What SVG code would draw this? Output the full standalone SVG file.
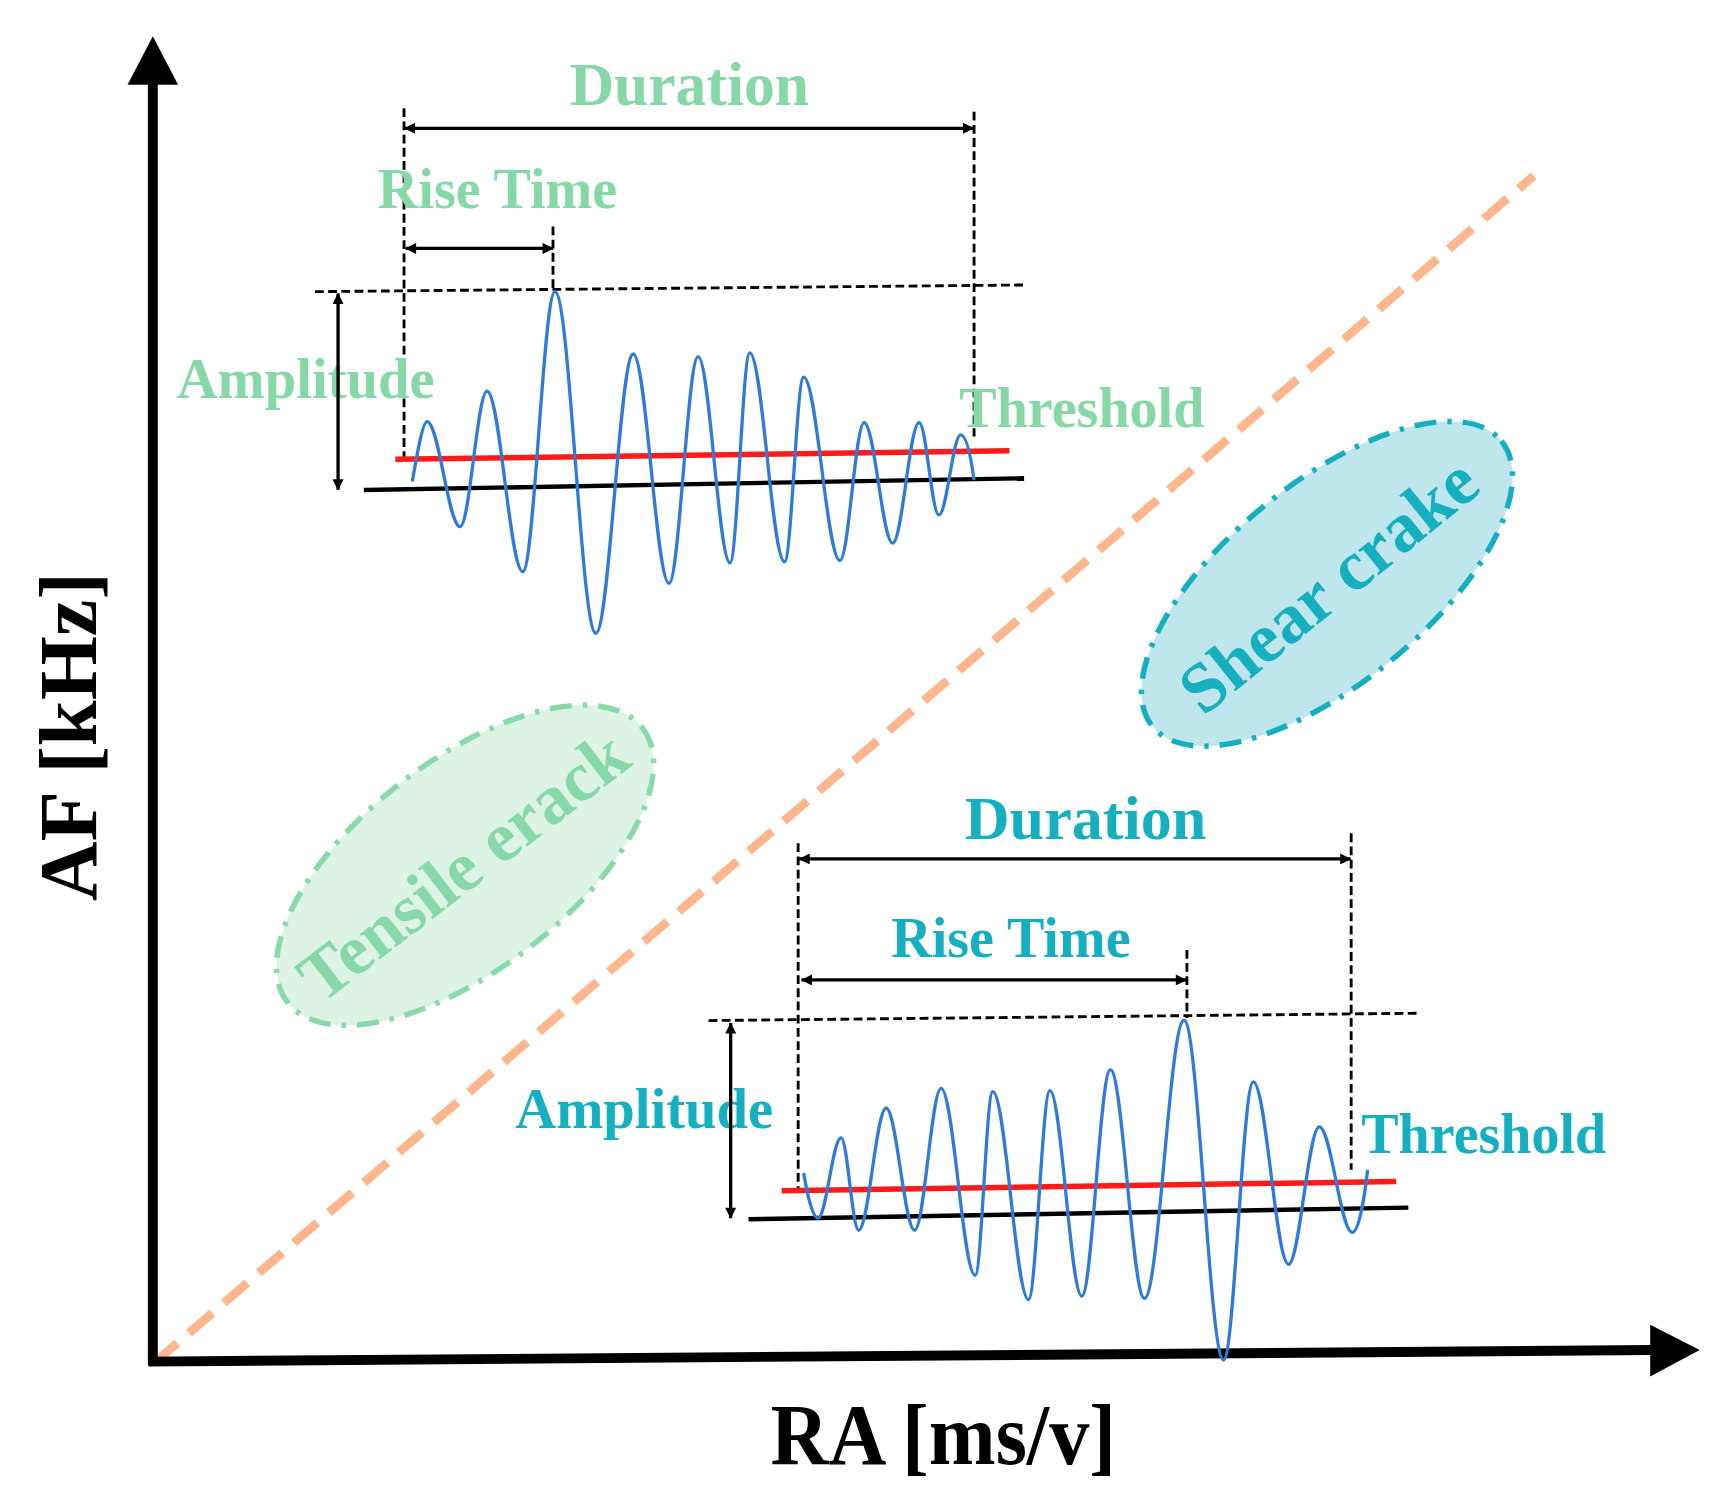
<svg xmlns="http://www.w3.org/2000/svg" width="1724" height="1507" viewBox="0 0 1724 1507">
<style>
  text { font-family: "Liberation Serif", "Times New Roman", serif; font-weight: bold; }
  .g { fill: #86D9A6; }
  .t { fill: #16AFC0; }
  .k { fill: #000; }
  .dash { stroke: #000; stroke-width: 2.6; stroke-dasharray: 8 4; fill: none; }
  .dim { stroke: #000; stroke-width: 3; fill: none; marker-start: url(#ah); marker-end: url(#ah); }
  .wave { stroke: #2E7BD8; stroke-width: 3; fill: none; stroke-linejoin: round; }
  .red { stroke: #FF1A1A; stroke-width: 5; }
  .base { stroke: #000; stroke-width: 4; }
  .axis { stroke: #000; stroke-width: 9; }
</style>
<defs>
  <marker id="ah" viewBox="0 0 10 10" refX="9.5" refY="5" markerUnits="userSpaceOnUse" markerWidth="13" markerHeight="10" orient="auto-start-reverse">
    <path d="M0,0 L10,5 L0,10 Z" fill="#000"/>
  </marker>
</defs>
<rect width="1724" height="1507" fill="#fff"/>
<g transform="scale(1.0994)">
  <g id="diagonal">
    <line x1="140" y1="1240" x2="1395" y2="160" stroke="#FDB68E" stroke-width="8" stroke-dasharray="28 14"/>
  </g>

  <g id="tensile-region">
    <ellipse cx="423" cy="787" rx="204" ry="95" transform="rotate(-37.7 423 787)" fill="#DDF3E5" stroke="#88DBA8" stroke-width="5" stroke-dasharray="20 10 4 10"/>
    <text class="g" font-size="64" text-anchor="middle" transform="translate(421 787) rotate(-37.5)" y="22">Tensile erack</text>
  </g>

  <g id="shear-region">
    <ellipse cx="1207" cy="531" rx="205" ry="91" transform="rotate(-39.3 1207 531)" fill="#BFE6EC" stroke="#16AFC0" stroke-width="5" stroke-dasharray="20 10 4 10"/>
    <text class="t" font-size="64" text-anchor="middle" transform="translate(1208 532) rotate(-39)" y="22">Shear crake</text>
  </g>

  <g id="axes">
    <line class="axis" x1="139" y1="1242" x2="139" y2="74"/>
    <polygon points="116,77 162,77 139,33" fill="#000"/>
    <line class="axis" x1="135" y1="1238.5" x2="1503" y2="1228"/>
    <polygon points="1501,1205 1546,1228 1501,1252" fill="#000"/>
    <text class="k" font-size="75" text-anchor="middle" transform="translate(87 670) rotate(-90)">AF [kHz]</text>
    <text class="k" font-size="73" text-anchor="middle" transform="translate(858 1332) scale(1 1.08)">RA [ms/v]</text>
  </g>

  <g id="waveform-top">
    <line class="dash" x1="286.5" y1="265.3" x2="931.5" y2="259.2"/>
    <line class="dash" x1="367.5" y1="98.5" x2="367.5" y2="418"/>
    <line class="dash" x1="886" y1="101.6" x2="886" y2="397"/>
    <line class="dash" x1="503" y1="206" x2="503" y2="265"/>
    <line class="red" x1="359.6" y1="417.8" x2="918.2" y2="410"/>
    <line class="base" x1="331" y1="445.7" x2="931.5" y2="435"/>
    <path class="wave" d="M375,438 C379,415 384.5,383.5 388.4,383.5 C399.2,383.5 407.7,479 418.5,479 C427.3,479 434.2,355.7 443,355.7 C454.7,355.7 463.8,520 475.5,520 C486,520 494.3,265.3 504.8,265.3 C518.2,265.3 528.6,576 542,576 C554.2,576 563.8,322 576,322 C587.7,322 596.8,530.5 608.5,530.5 C618,530.5 625.5,324.4 635,324.4 C645.4,324.4 653.6,512 664,512 C670.5,512 675.5,321 682,321 C693.4,321 702.2,511 713.6,511 C719.9,511 724.7,343 731,343 C742.9,343 752.1,510 764,510 C771.9,510 778.1,384.4 786,384.4 C795.4,384.4 802.6,494 812,494 C820.6,494 827.4,384.4 836,384.4 C842.5,384.4 847.5,468.4 854,468.4 C861.1,468.4 866.7,395.6 873.8,395.6 C879,395.6 883,415 886,436.6"/>
    <text class="g" font-size="56" text-anchor="middle" x="627" y="95.5">Duration</text>
    <text class="g" font-size="51" text-anchor="middle" x="452.5" y="189.5">Rise Time</text>
    <text class="g" font-size="51.5" text-anchor="middle" x="278" y="362">Amplitude</text>
    <text class="g" font-size="51" text-anchor="middle" x="984" y="388">Threshold</text>
  </g>

  <g id="waveform-bottom">
    <line class="dash" x1="644.5" y1="928.3" x2="1291.5" y2="921.6"/>
    <line class="dash" x1="726" y1="767" x2="726" y2="1082"/>
    <line class="dash" x1="1229" y1="758" x2="1229" y2="1064"/>
    <line class="dash" x1="1079.6" y1="864" x2="1079.6" y2="926"/>
    <line class="red" x1="711" y1="1083" x2="1270" y2="1074.7"/>
    <line class="base" x1="680.8" y1="1109" x2="1281" y2="1098.4"/>
    <path class="wave" d="M731,1067 C734,1085 739,1108 744,1108 C751.6,1108 757.4,1035 765,1035 C770.8,1035 775.2,1119 781,1119 C790,1119 797,1008 806,1008 C815.4,1008 822.6,1119 832,1119 C840.6,1119 847.4,990 856,990 C867.2,990 875.8,1160 887,1160 C892.8,1160 897.2,993 903,993 C914.7,993 923.8,1182 935.5,1182 C942.5,1182 948,992 955,992 C965.4,992 973.6,1179 984,1179 C993.4,1179 1000.6,973 1010,973 C1021.2,973 1029.8,1181 1041,1181 C1054,1181 1064,928 1077,928 C1090,928 1100,1237 1113,1237 C1122.7,1237 1130.3,984 1140,984 C1151.5,984 1160.5,1150 1172,1150 C1182,1150 1190,1025 1200,1025 C1210.8,1025 1219.2,1121 1230,1121 C1236,1121 1241,1090 1244,1064"/>
    <text class="t" font-size="56.5" text-anchor="middle" x="987.4" y="763.3">Duration</text>
    <text class="t" font-size="51" text-anchor="middle" x="919.5" y="870.7">Rise Time</text>
    <text class="t" font-size="51.5" text-anchor="middle" x="586" y="1026">Amplitude</text>
    <text class="t" font-size="51" text-anchor="middle" x="1349.6" y="1049">Threshold</text>
  </g>

  <g id="connectors">
    <line class="dim" x1="368" y1="116.7" x2="885.5" y2="116.7"/>
    <line class="dim" x1="369" y1="226" x2="503" y2="226"/>
    <line class="dim" x1="307.5" y1="267" x2="307.5" y2="445.5"/>
    <line class="dim" x1="727" y1="781.3" x2="1228.5" y2="781.3"/>
    <line class="dim" x1="729" y1="891.3" x2="1079" y2="891.3"/>
    <line class="dim" x1="664.6" y1="930.5" x2="664.6" y2="1108"/>
  </g>
</g>
</svg>
